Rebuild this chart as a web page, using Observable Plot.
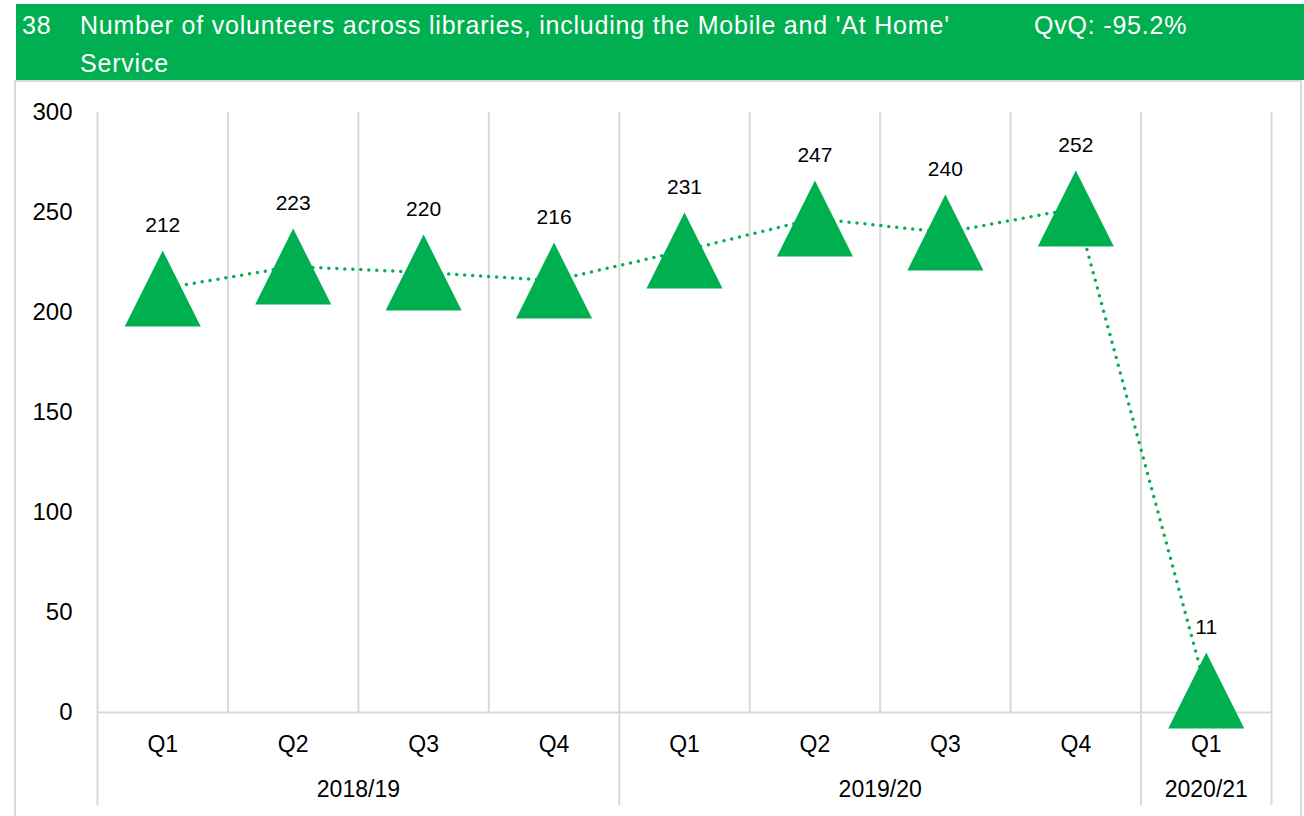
<!DOCTYPE html>
<html>
<head>
<meta charset="utf-8">
<script src="https://cdn.jsdelivr.net/npm/d3@7"></script>
<script src="https://cdn.jsdelivr.net/npm/@observablehq/plot@0.6"></script>
<style>
  html, body { margin: 0; padding: 0; background: #fff; }
  #wrap { position: relative; width: 1304px; height: 816px; overflow: hidden; font-family: "Liberation Sans", Arial, sans-serif; }
  #frame { position: absolute; left: 14px; top: 80px; width: 1284px; height: 760px; border: 2px solid #d9d9d9; box-sizing: content-box; }
  #header { position: absolute; left: 16px; top: 4px; width: 1288px; height: 76px; background: #00b050; color: #fff; font-size: 25px; line-height: 38px; letter-spacing: 0.8px; }
  #header .num { position: absolute; left: 6px; top: 2px; }
  #header .title { position: absolute; left: 64px; top: 2px; width: 890px; }
  #header .qvq { position: absolute; left: 1018px; top: 2px; }
  #chart { position: absolute; left: 0; top: 0; }
</style>
</head>
<body>
<div id="wrap">
  <div id="frame"></div>
  <div id="header">
    <span class="num"></span>
    <span class="title"></span>
    <span class="qvq"></span>
  </div>
  <div id="chart"></div>
</div>
<script>
const chartNumber = "38";
const chartTitle = "Number of volunteers across libraries, including the Mobile and 'At Home' Service";
const changeLabel = "QvQ: -95.2%";
const quarters = ["Q1", "Q2", "Q3", "Q4", "Q1", "Q2", "Q3", "Q4", "Q1"];
const years = ["2018/19", "2019/20", "2020/21"];
const quartersPerYear = [4, 4, 1];
const volunteers = [212, 223, 220, 216, 231, 247, 240, 252, 11];
const yTicks = [0, 50, 100, 150, 200, 250, 300];

document.querySelector("#header .num").textContent = chartNumber;
document.querySelector("#header .title").textContent = chartTitle;
document.querySelector("#header .qvq").textContent = changeLabel;

const green = "#00b050";
const grid = "#d9d9d9";
const separatorDepth = -46.5; // how far year separators reach below the baseline, in y units

const data = volunteers.map((v, i) => ({i, q: quarters[i], v}));
const bounds = [0, ...d3.cumsum(quartersPerYear)];
const yearData = years.map((y, k) => ({label: y, mid: (bounds[k] + bounds[k + 1]) / 2}));
const edges = d3.range(quarters.length + 1);

const triangle = {
  draw(context, size) {
    const r = Math.sqrt(size / Math.PI);
    context.moveTo(0, -r);
    context.lineTo(r, r);
    context.lineTo(-r, r);
    context.closePath();
  }
};

const plot = Plot.plot({
  width: 1304,
  height: 816,
  marginTop: 112,
  marginBottom: 104,
  marginLeft: 97,
  marginRight: 33,
  style: {background: "transparent", fontFamily: "'Liberation Sans', Arial, sans-serif", fontSize: "24px", color: "#000"},
  x: {domain: [0, quarters.length], axis: null},
  y: {domain: [0, 300], ticks: yTicks, label: null},
  marks: [
    Plot.ruleX(edges, {x: d => d, y1: 0, y2: 300, stroke: grid, strokeWidth: 2}),
    Plot.ruleX(bounds, {x: d => d, y1: separatorDepth, y2: 0, stroke: grid, strokeWidth: 2}),
    Plot.ruleY([0], {stroke: grid, strokeWidth: 2}),
    Plot.axisY({ticks: yTicks, tickSize: 0, tickPadding: 25, fontSize: 24, fill: "#000", label: null}),
    Plot.line(data, {x: d => d.i + 0.5, y: "v", stroke: green, strokeWidth: 3.5, strokeDasharray: "0 8", strokeLinecap: "round"}),
    Plot.dot(data, {x: d => d.i + 0.5, y: "v", symbol: triangle, r: 38, fill: green, stroke: null}),
    Plot.text(data, {x: d => d.i + 0.5, y: "v", text: d => String(d.v), dy: -63, fontSize: 21, fill: "#000"}),
    Plot.text(data, {x: d => d.i + 0.5, y: () => 0, text: "q", dy: 32, fontSize: 23, fill: "#000"}),
    Plot.text(yearData, {x: "mid", y: () => 0, text: "label", dy: 77, fontSize: 23, fill: "#000"})
  ]
});
document.getElementById("chart").appendChild(plot);
</script>
</body>
</html>
